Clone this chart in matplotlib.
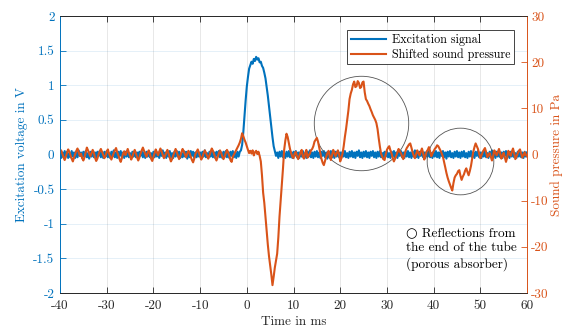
import numpy as np
import matplotlib
matplotlib.use('Agg')
from matplotlib import pyplot as plt

plt.rcParams['font.family'] = ['cmr10', 'DejaVu Sans']
plt.rcParams['axes.unicode_minus'] = False
plt.rcParams['axes.formatter.use_mathtext'] = True
plt.rcParams['font.size'] = 9.5

#%% data (0.25 ms steps from -40 to 60 ms)
t_ms = np.arange(-40, 60.001, 0.25)

# excitation voltage in V, one row = 5 ms
excitation_v = [
    0.04, -0.05, 0.03, -0.04, 0.05, -0.03, 0.04, -0.05, 0.02, -0.04, 0.05, -0.03, 0.03, -0.05, 0.04, -0.04, 0.06, -0.02, 0.03, -0.05,
    0.04, -0.03, 0.05, -0.04, 0.02, -0.06, 0.04, -0.03, 0.05, -0.04, 0.03, -0.05, 0.04, -0.02, 0.05, -0.04, 0.03, -0.05, 0.04, -0.03,
    0.05, -0.04, 0.02, -0.05, 0.04, -0.03, 0.06, -0.04, 0.03, -0.05, 0.04, -0.02, 0.05, -0.04, 0.03, -0.05, 0.04, -0.03, 0.05, -0.04,
    0.02, -0.05, 0.04, -0.03, 0.05, -0.04, 0.03, -0.06, 0.04, -0.02, 0.05, -0.04, 0.03, -0.05, 0.04, -0.03, 0.05, -0.04, 0.02, -0.05,
    0.04, -0.04, 0.05, -0.03, 0.03, -0.05, 0.04, -0.02, 0.06, -0.04, 0.03, -0.05, 0.04, -0.03, 0.05, -0.04, 0.02, -0.05, 0.04, -0.03,
    0.05, -0.03, 0.04, -0.05, 0.02, -0.04, 0.05, -0.03, 0.04, -0.06, 0.03, -0.04, 0.05, -0.02, 0.04, -0.05, 0.03, -0.04, 0.05, -0.03,
    0.03, -0.05, 0.04, -0.03, 0.06, -0.04, 0.02, -0.05, 0.04, -0.03, 0.05, -0.04, 0.03, -0.05, 0.04, -0.02, 0.05, -0.04, 0.03, -0.05,
    0.04, -0.03, 0.05, -0.04, 0.03, -0.05, 0.04, -0.02, 0.05, -0.04, 0.03, -0.05, 0.04, -0.03, 0.04, 0.06, 0.14, 0.32, 0.55, 0.78,
    0.98, 1.12, 1.24, 1.29, 1.34, 1.31, 1.38, 1.35, 1.41, 1.37, 1.39, 1.33, 1.34, 1.28, 1.25, 1.18, 1.10, 0.98, 0.85, 0.70,
    0.55, 0.40, 0.25, 0.12, 0.05, -0.02, 0.03, -0.05, 0.04, -0.03, 0.05, -0.04, 0.02, -0.05, 0.04, -0.03, 0.05, -0.04, 0.03, -0.05,
    0.04, -0.02, 0.05, -0.04, 0.03, -0.05, 0.04, -0.03, 0.05, -0.04, 0.02, -0.05, 0.04, -0.03, 0.06, -0.04, 0.03, -0.05, 0.04, -0.03,
    0.05, -0.04, 0.03, -0.05, 0.04, -0.02, 0.05, -0.04, 0.03, -0.06, 0.04, -0.03, 0.05, -0.04, 0.02, -0.05, 0.04, -0.03, 0.05, -0.04,
    0.03, -0.05, 0.04, -0.03, 0.05, -0.04, 0.02, -0.05, 0.04, -0.03, 0.05, -0.04, 0.03, -0.05, 0.04, -0.02, 0.06, -0.04, 0.03, -0.05,
    0.04, -0.03, 0.05, -0.04, 0.03, -0.05, 0.04, -0.02, 0.05, -0.04, 0.03, -0.05, 0.04, -0.03, 0.05, -0.04, 0.02, -0.06, 0.04, -0.03,
    0.05, -0.04, 0.02, -0.05, 0.04, -0.03, 0.05, -0.04, 0.03, -0.05, 0.04, -0.02, 0.05, -0.04, 0.03, -0.05, 0.04, -0.03, 0.05, -0.04,
    0.03, -0.05, 0.04, -0.03, 0.06, -0.04, 0.03, -0.05, 0.04, -0.02, 0.05, -0.04, 0.03, -0.05, 0.04, -0.03, 0.05, -0.04, 0.02, -0.05,
    0.04, -0.03, 0.05, -0.04, 0.03, -0.05, 0.04, -0.02, 0.05, -0.04, 0.03, -0.06, 0.04, -0.03, 0.05, -0.04, 0.02, -0.05, 0.04, -0.03,
    0.05, -0.04, 0.03, -0.05, 0.04, -0.03, 0.05, -0.04, 0.02, -0.05, 0.04, -0.03, 0.05, -0.04, 0.03, -0.05, 0.04, -0.02, 0.05, -0.04,
    0.03, -0.05, 0.04, -0.03, 0.05, -0.04, 0.02, -0.05, 0.04, -0.03, 0.06, -0.04, 0.03, -0.05, 0.04, -0.03, 0.05, -0.04, 0.03, -0.05,
    0.04, -0.02, 0.05, -0.04, 0.03, -0.05, 0.04, -0.03, 0.05, -0.04, 0.02, -0.05, 0.04, -0.03, 0.05, -0.04, 0.03, -0.05, 0.04, -0.03,
    0.03,
]

# shifted sound pressure in Pa, one row = 5 ms
pressure_pa = [
    0.3, 0.9, 0.2, -0.6, -1.2, -0.5, 0.4, 1.1, 0.6, -0.2, -0.9, -1.5, -0.7, 0.1, 0.8, 1.3, 0.5, -0.3, 0.2, -0.8,
    -1.3, -0.6, 0.5, 1.5, 0.9, 0.2, -0.4, 0.3, 1.0, 0.4, -0.7, -1.4, -0.9, 0.0, 0.7, 1.2, 0.6, -0.1, -0.8, -0.3,
    0.6, 1.1, 0.2, -0.5, -1.1, -0.4, 0.3, 0.9, 1.4, 0.5, -0.2, -1.0, -1.6, -0.8, 0.2, 0.7, -0.1, 0.5, 1.2, 0.4,
    -0.3, -1.1, -0.5, 0.4, 1.0, 0.3, -0.6, -1.3, -0.7, 0.2, 0.9, 1.5, 0.8, 0.1, -0.5, 0.3, 0.9, 0.2, -0.9, -1.4,
    -0.6, 0.3, 1.1, 0.5, -0.2, 0.6, 1.3, 0.7, -0.1, -0.8, -0.3, 0.4, 1.0, 0.2, -0.7, -1.5, -1.0, -0.2, 0.5, 1.2,
    0.6, -0.3, -1.0, -0.4, 0.5, 1.2, 0.7, 0.0, -0.6, 0.2, 0.8, 0.3, -0.5, -1.2, -1.7, -0.9, 0.1, 0.6, 1.1, 0.4,
    -0.4, -1.1, -0.6, 0.3, 0.9, 0.4, -0.3, -0.9, -0.2, 0.6, 1.3, 0.8, 0.1, -0.7, -1.3, -0.6, 0.2, 0.9, 0.4, -0.4,
    -1.0, -0.5, 0.3, 1.0, 0.5, -0.3, -1.2, -1.6, -0.5, 0.0, 0.5, 1.0, 1.5, 2.0, 2.6, 3.4, 4.6, 4.0, 3.2, 2.6,
    1.8, 1.0, 0.3, 0.8, 0.2, 0.9, -0.2, 0.5, 0.8, 0.1, 0.6, -0.3, -1.5, -4.5, -8.3, -10.5, -13.5, -16.5, -19.5, -22.0,
    -24.0, -26.0, -28.3, -26.5, -24.5, -23.0, -21.5, -18.0, -13.5, -10.0, -6.5, -3.0, 1.0, 3.0, 4.5, 3.8, 2.5, 1.2, 0.3, -0.5,
    -0.8, 0.2, 0.6, -0.4, -1.0, -0.3, 0.4, 1.0, -0.5, -0.9, 0.3, 1.0, -0.7, -0.2, 0.2, 0.9, 1.2, 1.8, 2.8, 3.2,
    3.6, 2.8, 1.5, 0.2, -1.0, -1.8, -2.3, -1.4, -0.5, 0.3, 0.8, -0.3, -1.2, -0.2, 1.0, 0.4, -0.4, 0.3, 0.9, 0.1,
    -1.5, -0.8, 0.2, 1.8, 3.8, 5.5, 7.5, 9.5, 12.0, 13.2, 14.0, 15.2, 15.8, 14.6, 14.8, 15.9, 15.5, 14.4, 14.6, 15.6,
    15.8, 13.5, 12.0, 11.6, 11.0, 10.5, 9.8, 9.2, 8.5, 8.0, 7.5, 6.8, 5.5, 3.5, 1.7, 0.2, -0.5, -1.0, -1.2, 0.0,
    1.0, 1.5, 1.8, 0.9, 0.2, -0.8, -1.5, -0.9, -0.3, 0.5, 1.2, 0.7, 0.3, -0.4, -1.0, -0.2, 0.8, 1.4, 1.8, 2.2,
    2.4, 1.5, 0.5, -0.3, -0.8, 0.1, 0.9, 0.3, -0.2, 0.6, 1.3, 0.4, -1.1, -0.3, 0.6, 1.0, 1.6, 0.7, -0.4, 0.2,
    0.7, 1.2, 1.5, 2.0, 1.8, 1.3, 0.8, 0.2, -0.5, -1.6, -2.8, -4.0, -5.0, -5.8, -6.5, -7.2, -7.8, -6.2, -5.0, -4.5,
    -4.2, -3.6, -3.4, -4.6, -5.5, -4.8, -4.3, -3.5, -3.0, -3.8, -4.5, -3.6, -2.5, -1.0, 0.6, 1.6, 2.4, 1.8, 1.2, 0.2,
    -0.8, -0.2, 0.5, 1.0, 1.4, 0.5, -0.6, -0.1, 0.3, -0.5, -1.3, -0.4, 0.9, 0.4, -0.2, 0.5, 1.2, 0.3, -0.9, -0.3,
    0.4, -0.6, -1.6, -0.7, 0.8, 0.2, -0.3, 0.6, 1.3, 0.3, -1.0, -0.4, 0.2, 0.8, 1.1, 0.2, -0.7, -0.1, 0.5, 0.0,
    -0.4,
]

# circled reflections: centre (ms, V) and diameter in points
circle_ms = [24.5, 45.6]
circle_v = [0.46, -0.09]
circle_size = [68, 48]

#%% plot
blue = '#0072BD'
orange = '#D95319'
dark = '#262626'

fig = plt.figure(figsize=(5.69, 3.29), dpi=100)
fig.subplots_adjust(left=60/569, right=527/569, top=1-16/329, bottom=1-293/329)
ax = fig.add_subplot(111)
ax2 = ax.twinx()

l1, = ax.plot(t_ms, excitation_v, color=blue, lw=1.5, label='Excitation signal')
l2, = ax2.plot(t_ms, pressure_pa, color=orange, lw=1.5, label='Shifted sound pressure')

ax.set_xlim(-40, 60)
ax.set_ylim(-2, 2)
ax2.set_ylim(-30, 30)
ax.set_xticks(np.arange(-40, 61, 10))
ax.set_yticks(np.arange(-2, 2.01, 0.5))
ax.set_yticklabels(['-2', '-1.5', '-1', '-0.5', '0', '0.5', '1', '1.5', '2'])
ax.set_xticklabels([str(v) for v in range(-40, 61, 10)])
ax2.set_yticks(np.arange(-30, 31, 10))
ax2.set_yticklabels([str(v) for v in range(-30, 31, 10)])

ax.xaxis.grid(True, color=dark, alpha=0.12, lw=0.6)
ax.yaxis.grid(True, color=blue, alpha=0.12, lw=0.6)

for a in (ax, ax2):
    a.spines['top'].set_color(dark)
    a.spines['bottom'].set_color(dark)
    for s in a.spines.values():
        s.set_linewidth(0.6)
ax.spines['left'].set_color(blue)
ax2.spines['left'].set_color(blue)
ax2.spines['right'].set_color(orange)
ax.spines['right'].set_color(orange)

ax.tick_params(axis='x', direction='in', top=True, colors=dark, length=4, width=0.6, pad=5)
ax.tick_params(axis='y', direction='in', colors=blue, length=4, width=0.6, pad=4)
ax2.tick_params(axis='y', direction='in', colors=orange, length=4, width=0.6, pad=3)

ax.set_xlabel('Time in ms', color=dark, labelpad=3)
ax.set_ylabel('Excitation voltage in V', color=blue, labelpad=4)
ax2.set_ylabel('Sound pressure in Pa', color=orange, labelpad=1)

for cx, cy, cs in zip(circle_ms, circle_v, circle_size):
    ax.plot(cx, cy, 'o', ms=cs, mfc='none', mec='#555555', mew=0.6, zorder=5)
ax.set_zorder(ax2.get_zorder() - 1)
ax.patch.set_visible(True)
ax2.patch.set_visible(False)

ax2.text(34, -15.8, '\u25cb Reflections from\nthe end of the tube\n(porous absorber)',
         ha='left', va='top', color='black', linespacing=1.3)

leg = ax2.legend(handles=[l1, l2], loc='upper right', bbox_to_anchor=(0.977, 0.958),
                 fancybox=False, framealpha=1, edgecolor=dark, handlelength=2.9,
                 borderpad=0.3, labelspacing=0.2, handletextpad=0.5, borderaxespad=0.2,
                 prop={'size': 8.7})
leg.get_frame().set_linewidth(0.6)

fig.savefig('out.png', dpi=100)
